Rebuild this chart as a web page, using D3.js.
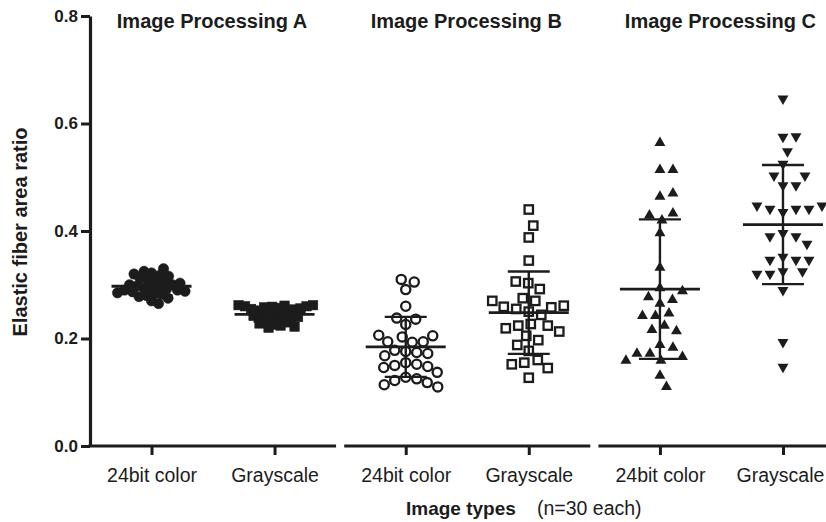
<!DOCTYPE html>
<html><head><meta charset="utf-8">
<script src="https://cdn.jsdelivr.net/npm/d3@7"></script>
<style>
body{margin:0;background:#fff}
svg{display:block}
text{font-family:"Liberation Sans",Arial,Helvetica,sans-serif;fill:#1c1c1c}
</style>
</head><body>
<svg id="chart" width="826" height="522"></svg>
<script>
// ---- data ----
const groups = ["Image Processing A", "Image Processing B", "Image Processing C"];
const imageTypes = ["24bit color", "Grayscale"];
const yTicks = [0, 0.2, 0.4, 0.6, 0.8];
const yTitle = "Elastic fiber area ratio";
const xTitleBold = "Image types";
const xTitleNote = "(n=30 each)";

const procA_color = [0.330,0.325,0.322,0.320,0.318,0.316,0.312,0.310,0.308,0.305,0.303,0.300,0.300,0.298,0.296,0.295,0.294,0.292,0.290,0.290,0.288,0.287,0.285,0.283,0.282,0.280,0.278,0.275,0.270,0.265];
const procA_gray  = [0.262,0.262,0.261,0.260,0.260,0.259,0.258,0.257,0.256,0.255,0.254,0.252,0.250,0.249,0.248,0.246,0.245,0.243,0.242,0.240,0.238,0.236,0.234,0.232,0.230,0.228,0.226,0.224,0.222,0.220];
const procB_color = [0.310,0.305,0.291,0.260,0.238,0.236,0.226,0.206,0.205,0.203,0.194,0.194,0.193,0.178,0.176,0.174,0.172,0.168,0.155,0.152,0.150,0.148,0.146,0.137,0.128,0.125,0.122,0.118,0.114,0.110];
const procB_gray  = [0.440,0.410,0.388,0.345,0.306,0.303,0.292,0.275,0.270,0.270,0.261,0.259,0.258,0.255,0.250,0.244,0.227,0.224,0.224,0.219,0.213,0.205,0.197,0.188,0.177,0.160,0.155,0.152,0.145,0.127];
const procC_color = [0.564,0.514,0.514,0.464,0.470,0.433,0.429,0.420,0.396,0.332,0.288,0.294,0.277,0.272,0.265,0.242,0.247,0.242,0.224,0.214,0.216,0.183,0.188,0.172,0.159,0.159,0.166,0.172,0.131,0.110];
const procC_gray  = [0.646,0.575,0.576,0.548,0.525,0.503,0.503,0.485,0.485,0.447,0.441,0.441,0.435,0.441,0.447,0.390,0.390,0.396,0.376,0.352,0.346,0.346,0.346,0.320,0.325,0.325,0.320,0.290,0.193,0.147];

// ---- series → style mapping ----
const series = [
  {g: 0, t: 0, values: procA_color, shape: "circle",   fill: true,  D: 7.3},
  {g: 0, t: 1, values: procA_gray,  shape: "square",   fill: true,  D: 6.2},
  {g: 1, t: 0, values: procB_color, shape: "circle",   fill: false, D: 11},
  {g: 1, t: 1, values: procB_gray,  shape: "square",   fill: false, D: 12.5},
  {g: 2, t: 0, values: procC_color, shape: "triUp",    fill: true,  D: 13},
  {g: 2, t: 1, values: procC_gray,  shape: "triDown",  fill: true,  D: 13}
];

// ---- layout ----
const INK = "#1c1c1c";
const svg = d3.select("#chart");
const y = d3.scaleLinear().domain([0, 0.8]).range([446, 16]);
const outer = d3.scaleBand().domain(groups).range([90, 844.5]).paddingInner(0.032).paddingOuter(0);
const inner = groups.map(g => d3.scalePoint().domain(imageTypes)
  .range([outer(g), outer(g) + outer.bandwidth()]).padding(0.5));

// y axis
const yAxis = svg.append("g").attr("transform", "translate(90,0)")
  .call(d3.axisLeft(y).tickValues(yTicks).tickFormat(d3.format(".1f")).tickSize(9).tickPadding(3).tickSizeOuter(0));
yAxis.select(".domain").attr("stroke", INK).attr("stroke-width", 3.2);
yAxis.selectAll(".tick line").attr("stroke", INK).attr("stroke-width", 3);
yAxis.selectAll(".tick text").attr("font-size", 17).attr("font-weight", "bold")
  .attr("font-family", '"Liberation Sans",Arial,sans-serif').attr("fill", INK);

// x axes (one broken segment per group)
groups.forEach((g, gi) => {
  const ax = svg.append("g").attr("transform", "translate(0,446)")
    .call(d3.axisBottom(inner[gi]).tickSize(9).tickSizeOuter(0));
  ax.select(".domain").attr("stroke", INK).attr("stroke-width", 3.2)
    .attr("d", `M${gi === 0 ? 88.4 : outer(g)},0H${outer(g) + outer.bandwidth()}`);
  ax.selectAll(".tick line").attr("stroke", INK).attr("stroke-width", 3);
  ax.selectAll(".tick text").attr("font-size", 19.5).attr("dy", null).attr("y", 36)
    .attr("font-family", '"Liberation Sans",Arial,sans-serif').attr("fill", INK)
    .attr("dx", d => (gi === 2 && d === imageTypes[1]) ? -3 : 0);
  svg.append("text").attr("x", outer(g) + outer.bandwidth() / 2 - 1).attr("y", 28)
    .attr("text-anchor", "middle").attr("font-size", 20).attr("font-weight", "bold").text(g);
});

// axis titles
svg.append("text").attr("transform", "translate(27,232) rotate(-90)")
  .attr("text-anchor", "middle").attr("font-size", 20).attr("font-weight", "bold").text(yTitle);
svg.append("text").attr("x", 406).attr("y", 515).attr("font-size", 19).attr("font-weight", "bold").text(xTitleBold);
svg.append("text").attr("x", 537).attr("y", 515).attr("font-size", 19.5).text(xTitleNote);

// beeswarm placement
function swarm(values, D) {
  const med = d3.median(values);
  const pts = values.map(v => ({v, y: y(v)}))
    .sort((a, b) => Math.abs(a.v - med) - Math.abs(b.v - med));
  const placed = [];
  for (const p of pts) {
    for (let k = 0; k < 600; k++) {
      const off = k === 0 ? 0 : (k % 2 ? 1 : -1) * Math.ceil(k / 2) * 0.5;
      let ok = true;
      for (const q of placed) {
        const dx = off - q.x, dy = p.y - q.y;
        if (dx * dx + dy * dy < D * D) { ok = false; break; }
      }
      if (ok) { p.x = off; break; }
    }
    placed.push(p);
  }
  return placed;
}

const tri = d3.symbol().type(d3.symbolTriangle).size(52);

series.forEach(s => {
  const cx = inner[s.g](imageTypes[s.t]);
  const pts = swarm(s.values, s.D);
  const gEl = svg.append("g");
  pts.forEach(p => {
    const px = cx + p.x, py = p.y;
    if (s.shape === "circle") {
      gEl.append("circle").attr("cx", px).attr("cy", py).attr("r", s.fill ? 5.2 : 4.6)
        .attr("fill", s.fill ? INK : "#fff").attr("stroke", INK).attr("stroke-width", s.fill ? 0.5 : 2.3);
    } else if (s.shape === "square") {
      const a = s.fill ? 9.5 : 8.4;
      gEl.append("rect").attr("x", px - a / 2).attr("y", py - a / 2).attr("width", a).attr("height", a)
        .attr("fill", s.fill ? INK : "#fff").attr("stroke", INK).attr("stroke-width", s.fill ? 0.5 : 2.3);
    } else {
      gEl.append("path").attr("d", tri())
        .attr("transform", `translate(${px},${py})${s.shape === "triDown" ? " rotate(180)" : ""}`)
        .attr("fill", INK);
    }
  });
  // mean ± SD
  const m = d3.mean(s.values), sd = d3.deviation(s.values);
  const e = svg.append("g").attr("stroke", INK).attr("fill", "none");
  e.append("line").attr("x1", cx).attr("x2", cx).attr("y1", y(m + sd)).attr("y2", y(m - sd)).attr("stroke-width", 2.4);
  e.append("line").attr("x1", cx - 21).attr("x2", cx + 21).attr("y1", y(m + sd)).attr("y2", y(m + sd)).attr("stroke-width", 2.4);
  e.append("line").attr("x1", cx - 21).attr("x2", cx + 21).attr("y1", y(m - sd)).attr("y2", y(m - sd)).attr("stroke-width", 2.4);
  e.append("line").attr("x1", cx - 40).attr("x2", cx + 40).attr("y1", y(m)).attr("y2", y(m)).attr("stroke-width", 2.8);
});
</script>
</body></html>
